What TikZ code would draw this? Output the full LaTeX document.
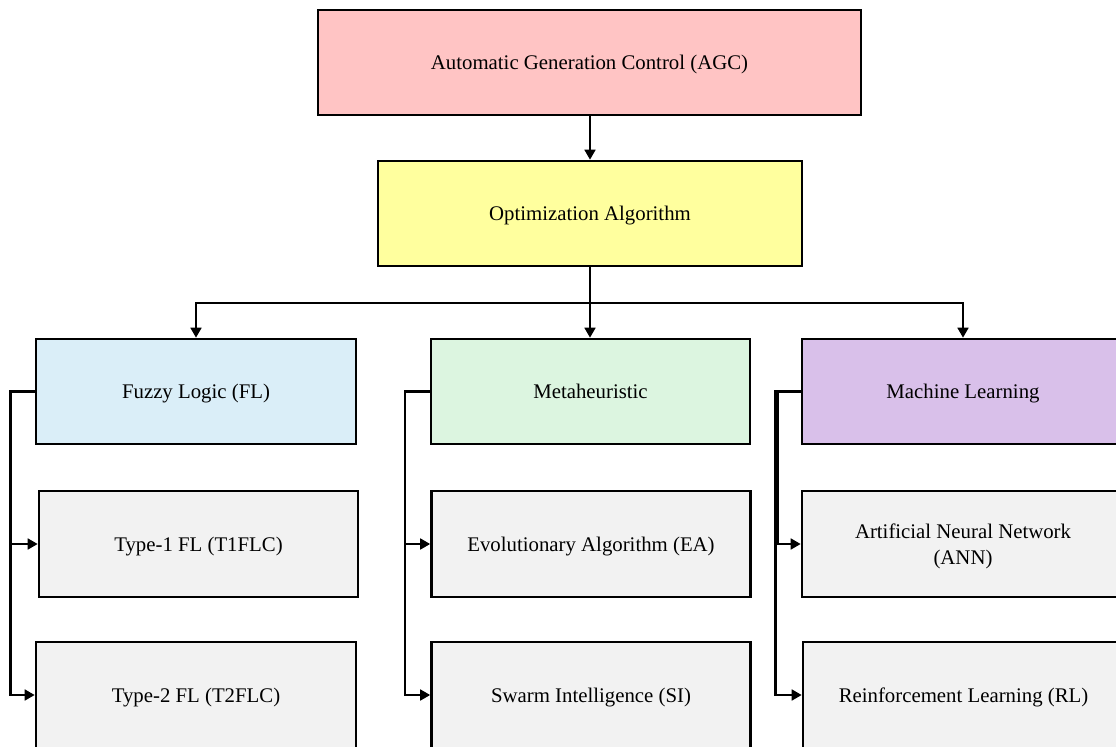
\documentclass[tikz,border=0pt]{standalone}
\usepackage{fontspec}
\setmainfont{Liberation Serif}
\usetikzlibrary{arrows.meta,positioning}
\definecolor{cpink}{HTML}{FFC4C4}
\definecolor{cyellow}{HTML}{FFFF9E}
\definecolor{cblue}{HTML}{DAEEF8}
\definecolor{cgreen}{HTML}{DCF5E0}
\definecolor{cpurple}{HTML}{D9C0EA}
\definecolor{cgray}{HTML}{F2F2F2}
\tikzset{
  box/.style={draw=black, line width=1.9pt, rectangle, align=center,
    font=\fontsize{15.6}{19.5}\selectfont, inner sep=0pt, text depth=0pt},
  conn/.style={draw=black, line width=1.9pt},
  arr/.style={conn, -{Triangle[length=7.5pt,width=8pt]}},
}
\begin{document}
\begin{tikzpicture}[x=0.75pt,y=-0.75pt]
\useasboundingbox (0,0) rectangle (1116,746);
\clip (0,0) rectangle (1116,746);
\fill[white] (0,0) rectangle (1116,746);
% top
\node[box, fill=cpink, minimum width=407.25pt, minimum height=78.75pt] (agc) at (589.5,62.5) {Automatic Generation Control (AGC)};
\node[box, fill=cyellow, minimum width=318pt, minimum height=78.75pt] (opt) at (590,213.5) {Optimization Algorithm};
% categories
\node[box, fill=cblue, minimum width=240pt, minimum height=78.75pt] (fl) at (196,391.5) {Fuzzy Logic (FL)};
\node[box, fill=cgreen, minimum width=239.25pt, minimum height=78.75pt] (meta) at (590.5,391.5) {Metaheuristic};
\node[box, fill=cpurple, minimum width=241.5pt, minimum height=78.75pt] (ml) at (963,391.5) {Machine Learning};
% row 2
\node[box, fill=cgray, minimum width=239.25pt, minimum height=79.5pt] (t1) at (198.5,544) {Type-1 FL (T1FLC)};
\node[box, fill=cgray, minimum width=239.25pt, minimum height=79.5pt] (ea) at (591,544) {Evolutionary Algorithm (EA)};
\node[box, fill=cgray, minimum width=241.5pt, minimum height=79.5pt] (ann) at (963,544) {Artificial Neural Network\\(ANN)};
% row 3
\node[box, fill=cgray, minimum width=240pt, minimum height=79.5pt] (t2) at (196,695) {Type-2 FL (T2FLC)};
\node[box, fill=cgray, minimum width=239.25pt, minimum height=79.5pt] (si) at (591,695) {Swarm Intelligence (SI)};
\node[box, fill=cgray, minimum width=240.75pt, minimum height=79.5pt] (rl) at (963.5,695) {Reinforcement Learning (RL)};
% connectors
\draw[arr] (opt.north |- agc.south) -- (opt.north);
\coordinate (bus) at (590,303);
\draw[conn] (opt.south) -- (bus);
\draw[arr] (bus) -| (fl.north);
\draw[arr] (bus) -| (ml.north);
\draw[arr] (bus) -- (bus |- meta.north);
% branches
\draw[arr] (fl.west) -- ++(-24.3,0) |- (t1.west);
\draw[arr] (fl.west) -- ++(-24.3,0) |- (t2.west);
\draw[arr] (meta.west) -- ++(-24.7,0) |- (ea.west);
\draw[arr] (meta.west) -- ++(-24.7,0) |- (si.west);
\draw[arr] (ml.west) -- ++(-23,0) |- (ann.west);
\draw[arr] (ml.west) -- ++(-25.5,0) |- (rl.west);
\end{tikzpicture}
\end{document}
